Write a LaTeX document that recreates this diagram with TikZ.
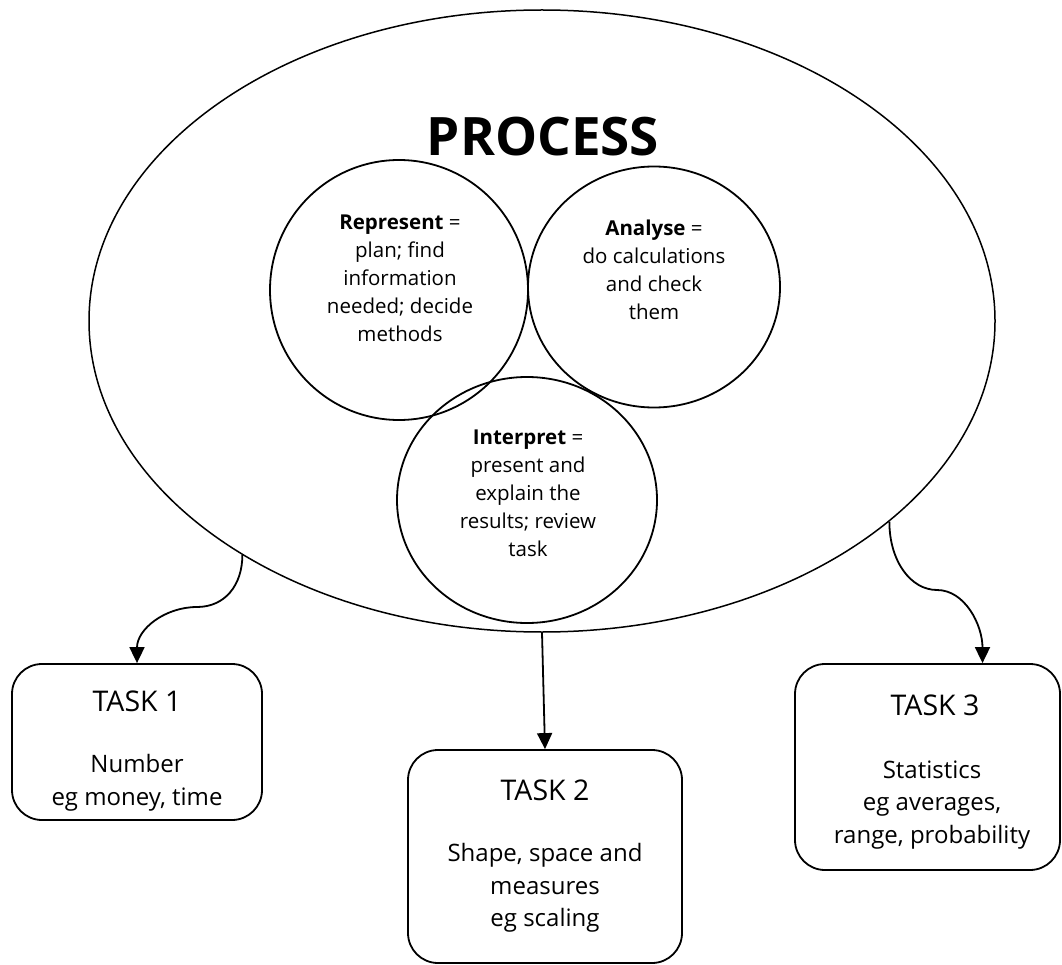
\documentclass[tikz,border=0pt]{standalone}
\usepackage{fontspec}
\setmainfont{Open Sans}
\usepackage{tikz}
\usetikzlibrary{shapes.geometric, arrows.meta}

\begin{document}
\begin{tikzpicture}[x=1pt, y=-1pt, line width=1.8pt]

        % Styles for the bubbles, the task boxes and their texts
        \tikzset{
            bubble/.style={draw, ellipse, inner sep=0pt},
            bubbletext/.style={align=center, font=\fontsize{20.5}{28}\selectfont},
            taskbox/.style={draw, rectangle, rounded corners=30pt, inner sep=0pt},
            tasktitle/.style={font=\fontsize{28.5}{34}\selectfont},
            taskbody/.style={align=center, font=\fontsize{24}{32.5}\selectfont},
            flow/.style={-{Triangle[length=16pt, width=15pt]}}
        }

        \useasboundingbox (0, 0) rectangle (1062, 965);

        % Outer ellipse with its title
        \node[bubble, line width=1.5pt, minimum width=906pt, minimum height=622pt]
            (process) at (542, 321) {};
        \node[font=\fontsize{53}{63}\selectfont\bfseries] (processtitle) at (543, 137) {PROCESS};

        % The three steps of the process
        \node[bubble, minimum width=258pt, minimum height=260pt] (represent) at (399, 290) {};
        \node[bubble, minimum width=252pt, minimum height=241pt] (analyse) at (654, 287) {};
        \node[bubble, minimum width=260pt, minimum height=246pt] (interpret) at (527, 500) {};

        \node[bubbletext] (representtext) at (400, 278)
            {\textbf{Represent} =\\plan; find\\information\\needed; decide\\methods};
        \node[bubbletext] (analysetext) at (654, 270)
            {\textbf{Analyse} =\\do calculations\\and check\\them};
        \node[bubbletext] (interprettext) at (528, 493)
            {\textbf{Interpret} =\\present and\\explain the\\results; review\\task};

        % Task boxes
        \node[taskbox, minimum width=250pt, minimum height=156pt] (task1) at (137, 742) {};
        \node[taskbox, minimum width=274pt, minimum height=213pt] (task2) at (545, 856.5) {};
        \node[taskbox, minimum width=265pt, minimum height=206pt] (task3) at (927.5, 767) {};

        \node[tasktitle] (task1title) at (137, 701) {TASK 1};
        \node[taskbody] (task1body) at (137, 783) {Number\\eg money, time};

        \node[tasktitle] (task2title) at (545, 790) {TASK 2};
        \node[taskbody] (task2body) at (545, 888) {Shape, space and\\measures\\eg scaling};

        \node[tasktitle] (task3title) at (935, 705) {TASK 3};
        \node[taskbody] (task3body) at (932, 805) {Statistics\\eg averages,\\range, probability};

        % Connectors from the process to the tasks
        \coordinate (bend1) at (197, 607);
        \coordinate (bend3) at (937, 590);

        \draw[flow] (process.218.5) .. controls +(0, 30) and +(28, 0) .. (bend1)
            .. controls +(-32, 0) and +(0, -34) .. (task1.north);
        \draw[flow] (process.south) -- (task2.north);
        \draw[flow] (process.330.8) .. controls +(0, 40) and +(-26, 0) .. (bend3)
            .. controls +(28, 0) and +(0, -38) .. ([xshift=55pt]task3.north);

\end{tikzpicture}
\end{document}
